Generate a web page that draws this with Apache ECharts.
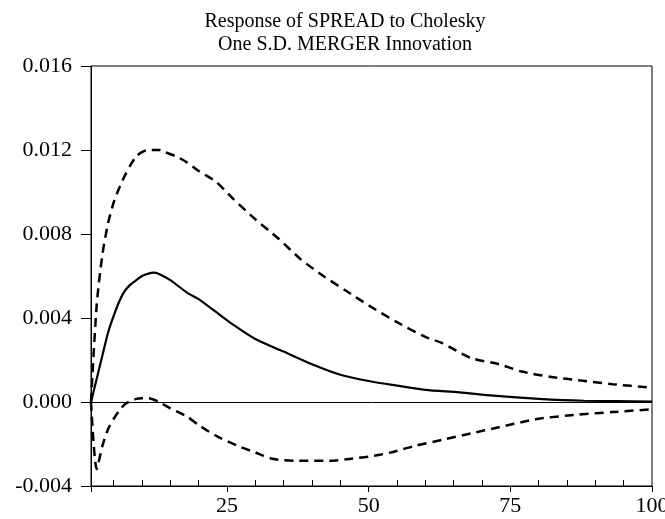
<!DOCTYPE html>
<html>
<head>
<meta charset="utf-8">
<script src="https://cdn.jsdelivr.net/npm/echarts@6/dist/echarts.min.js"></script>
<style>
  html, body { margin: 0; padding: 0; background: #fff; }
  #chart-root { width: 665px; height: 519px; }
</style>
</head>
<body>
<div id="chart-root"></div>
<script>
// impulse response
const periodsResp = [1, 2, 3, 4, 5, 6, 7, 8, 9, 10, 11, 12, 13, 15, 18, 20, 23, 26, 30, 35, 40, 45, 50, 55, 60, 66, 72, 80, 88, 100]
const response = [0, 0.0011, 0.0022, 0.0033, 0.0041, 0.0048, 0.0053, 0.0056, 0.0058, 0.0060, 0.0061, 0.00616, 0.0061, 0.0058, 0.0052, 0.0049, 0.0043, 0.0037, 0.0030, 0.0024, 0.0018, 0.0013, 0.0010, 0.00078, 0.00058, 0.00046, 0.0003, 0.00015, 0.00006, 0.00002]

// +2 S.E. band
const periodsUpper = [1, 2, 3, 4, 5, 6, 7, 8, 9, 10, 11, 12, 13, 14, 16, 18, 20, 23, 26, 30, 34, 38, 42, 46, 50, 55, 60, 63, 68, 73, 77, 82, 87, 93, 100]
const upper = [0, 0.0046, 0.0070, 0.0085, 0.0095, 0.0102, 0.0108, 0.0113, 0.0117, 0.0119, 0.0120, 0.0120, 0.0120, 0.0119, 0.0117, 0.0114, 0.0110, 0.0105, 0.0097, 0.0087, 0.0078, 0.0068, 0.0060, 0.0053, 0.0046, 0.0038, 0.0031, 0.0028, 0.0021, 0.0018, 0.00145, 0.0012, 0.00104, 0.00085, 0.00068]

// -2 S.E. band
const periodsLower = [1, 2, 3, 4, 5, 6, 7, 8, 9, 10, 11, 12, 13, 15, 18, 20, 23, 27, 30, 33, 37, 40, 43, 47, 50, 54, 58, 63, 68, 73, 80, 87, 93, 100]
const lower = [0, -0.0032, -0.0021, -0.0013, -0.0008, -0.0004, -0.0001, 0.00005, 0.00015, 0.00018, 0.00018, 0.00012, 0.0, -0.0003, -0.0007, -0.0011, -0.0016, -0.0021, -0.0024, -0.0027, -0.0028, -0.0028, -0.0028, -0.0027, -0.0026, -0.0024, -0.0021, -0.0018, -0.0015, -0.0012, -0.0008, -0.0006, -0.00048, -0.00035]

// horizon categories 1..100 for the tick axes
const horizons = Array.from({ length: 100 }, (_, i) => String(i + 1))
const xLabelValues = [25, 50, 75, 100]
const xMajorTicks = [1, 25, 50, 75, 100]
const xMinorStep = 5

const titleLines = ['Response of SPREAD to Cholesky', 'One S.D. MERGER Innovation']

const serif = '"Liberation Serif", "DejaVu Serif", serif'

function pairs (xs, ys) {
  return xs.map((x, i) => [x, ys[i]])
}

let chart = echarts.init(document.getElementById('chart-root'))

let option = {
  animation: false,
  backgroundColor: '#fff',
  title: {
    text: titleLines.join('\n'),
    left: 340,
    textAlign: 'center',
    top: 5,
    textStyle: {
      fontFamily: serif,
      fontSize: 20,
      fontWeight: 'normal',
      lineHeight: 23,
      color: '#000'
    }
  },
  grid: {
    left: 91,
    right: 13,
    top: 66,
    bottom: 33,
    outerBoundsMode: 'none',
    show: true,
    borderColor: '#000',
    borderWidth: 1
  },
  xAxis: [
    {
      // data axis
      type: 'value',
      min: 1,
      max: 100,
      splitLine: { show: false },
      axisLine: { onZero: false, lineStyle: { color: '#000', width: 1 } },
      axisTick: { show: false },
      axisLabel: { show: false }
    },
    {
      // labels + major ticks (outward)
      type: 'category',
      position: 'bottom',
      boundaryGap: false,
      data: horizons,
      splitLine: { show: false },
      axisLine: { show: true, onZero: false, lineStyle: { color: '#000', width: 1 } },
      axisTick: {
        show: true,
        length: 6,
        interval: (i) => xMajorTicks.includes(i + 1),
        lineStyle: { color: '#000', width: 1 }
      },
      axisLabel: {
        interval: (i) => xLabelValues.includes(i + 1),
        margin: 9,
        color: '#000',
        fontFamily: serif,
        fontSize: 22
      }
    },
    {
      // minor ticks (inward)
      type: 'category',
      position: 'bottom',
      boundaryGap: false,
      data: horizons,
      splitLine: { show: false },
      axisLine: { show: true, onZero: false, lineStyle: { color: '#000', width: 1 } },
      axisTick: {
        show: true,
        inside: true,
        length: 6,
        interval: (i) => (i + 1) % xMinorStep === 0 && !xMajorTicks.includes(i + 1),
        lineStyle: { color: '#000', width: 1 }
      },
      axisLabel: { show: false }
    }
  ],
  yAxis: {
    type: 'value',
    min: -0.004,
    max: 0.016,
    interval: 0.004,
    splitLine: { show: false },
    axisLine: { show: true, onZero: false, lineStyle: { color: '#000', width: 1 } },
    axisTick: { show: true, length: 10, lineStyle: { color: '#000' } },
    axisLabel: {
      margin: 19,
      color: '#000',
      fontFamily: serif,
      fontSize: 22,
      padding: [0, 0, 10, 0],
      formatter: v => v.toFixed(3)
    }
  },
  series: [
    {
      name: 'response',
      type: 'line',
      xAxisIndex: 0,
      showSymbol: false,
      smooth: 0.25,
      lineStyle: { color: '#000', width: 2.2 },
      data: pairs(periodsResp, response),
      markLine: {
        silent: true,
        symbol: 'none',
        label: { show: false },
        lineStyle: { color: '#000', width: 1, type: 'solid' },
        data: [{ yAxis: 0 }]
      },
      z: 3
    },
    {
      name: 'upper',
      type: 'line',
      xAxisIndex: 0,
      showSymbol: false,
      smooth: 0.25,
      lineStyle: { color: '#000', width: 2.5, type: [9, 6] },
      data: pairs(periodsUpper, upper)
    },
    {
      name: 'lower',
      type: 'line',
      xAxisIndex: 0,
      showSymbol: false,
      smooth: 0.25,
      lineStyle: { color: '#000', width: 2.5, type: [9, 6] },
      data: pairs(periodsLower, lower)
    }
  ]
}

chart.setOption(option)
</script>
</body>
</html>
